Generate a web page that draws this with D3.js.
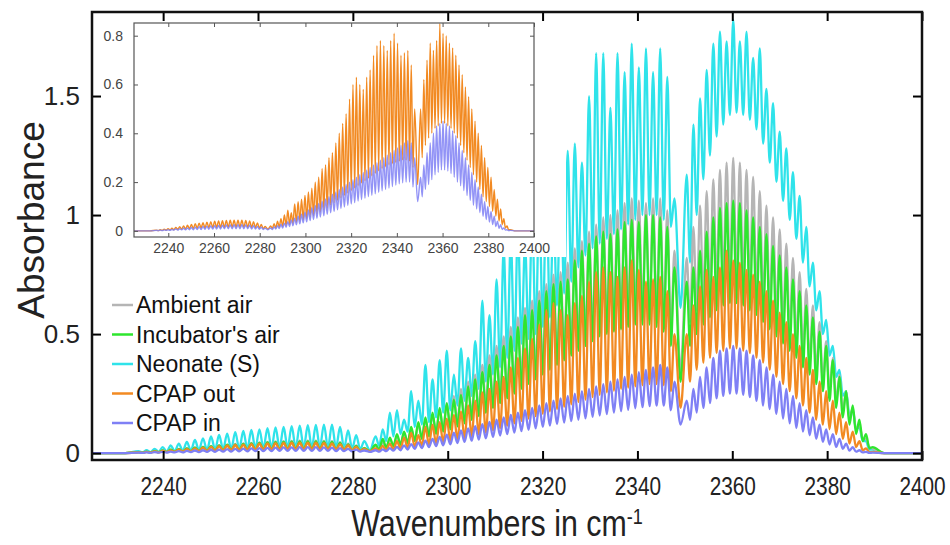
<!DOCTYPE html>
<html>
<head>
<meta charset="utf-8">
<script src="https://cdnjs.cloudflare.com/ajax/libs/d3/7.8.5/d3.min.js"></script>
<style>
body { margin: 0; background: #fff; }
svg text { font-family: "Liberation Sans", Arial, Helvetica, sans-serif; }
</style>
</head>
<body>
<div id="chart"></div>
<script>
// line centres in cm-1 : 13CO2 band (29), P branch (43), R branch (29)
var lineWn = [
  2234.8, 2236.5, 2238.2, 2239.9, 2241.6, 2243.3, 2245.0, 2246.7, 2248.4, 2250.1, 2251.8, 2253.5, 2255.2, 2256.9, 2258.6,
  2260.3, 2262.0, 2263.7, 2265.4, 2267.1, 2268.8, 2270.5, 2272.2, 2273.9, 2275.6, 2277.3, 2279.0, 2280.7, 2282.4,
  2284.8, 2286.3, 2287.8, 2289.3, 2290.8, 2292.3, 2293.8, 2295.3, 2296.8, 2298.3, 2299.8, 2301.3, 2302.8, 2304.3, 2305.8,
  2307.3, 2308.8, 2310.3, 2311.8, 2313.3, 2314.8, 2316.3, 2317.8, 2319.3, 2320.8, 2322.3, 2323.8, 2325.3, 2326.8, 2328.3,
  2329.8, 2331.3, 2332.8, 2334.3, 2335.8, 2337.3, 2338.8, 2340.3, 2341.8, 2343.3, 2344.8, 2346.3, 2347.8,
  2350.4, 2351.8, 2353.2, 2354.6, 2356.0, 2357.4, 2358.8, 2360.2, 2361.6, 2363.0, 2364.4, 2365.8, 2367.2, 2368.6, 2370.0,
  2371.4, 2372.8, 2374.2, 2375.6, 2377.0, 2378.4, 2379.8, 2381.2, 2382.6, 2384.0, 2385.4, 2386.8, 2388.2, 2389.6
];
// flat baseline at both ends of the record
var edgeWn = [2225, 2232, 2392, 2400];
var edgeAbs = [0, 0, 0, 0];

// absorbance at each line centre (peaks) and between neighbouring lines (valleys)
var ambientPeak = [
  0.004, 0.006, 0.009, 0.012, 0.015, 0.018, 0.021, 0.024, 0.027, 0.03, 0.033, 0.036, 0.039, 0.041, 0.043, 0.045, 0.047, 0.049, 0.05, 0.051, 0.052, 0.052, 0.052, 0.051, 0.05, 0.046, 0.04, 0.032, 0.022,
  0.03, 0.045, 0.06, 0.07, 0.085, 0.1, 0.12, 0.14, 0.16, 0.185, 0.21, 0.24, 0.27, 0.3, 0.33, 0.37, 0.41, 0.45, 0.49, 0.53, 0.57, 0.61, 0.64, 0.68, 0.71, 0.75, 0.76, 0.8, 0.86, 0.89, 0.93, 0.96, 0.99, 1.0, 1.02, 1.05, 1.07, 1.06, 1.05, 1.07, 1.07, 1.02, 0.85,
  0.82, 0.95, 1.04, 1.1, 1.15, 1.19, 1.22, 1.24, 1.22, 1.19, 1.16, 1.1, 1.04, 0.99, 0.94, 0.88, 0.82, 0.76, 0.69, 0.62, 0.55, 0.47, 0.4, 0.33, 0.26, 0.19, 0.12, 0.06, 0.02
];
var ambientValley = [
  0.002, 0.003, 0.004, 0.005, 0.006, 0.007, 0.008, 0.009, 0.01, 0.011, 0.012, 0.013, 0.014, 0.015, 0.015, 0.016, 0.016, 0.017, 0.017, 0.017, 0.017, 0.017, 0.017, 0.016, 0.015, 0.014, 0.012, 0.01,
  0.008,
  0.015, 0.022, 0.03, 0.038, 0.045, 0.055, 0.065, 0.075, 0.085, 0.1, 0.115, 0.13, 0.145, 0.16, 0.18, 0.2, 0.22, 0.245, 0.27, 0.29, 0.315, 0.335, 0.355, 0.375, 0.395, 0.42, 0.44, 0.46, 0.48, 0.5, 0.52, 0.54, 0.555, 0.57, 0.58, 0.59, 0.6, 0.6, 0.6, 0.59, 0.57, 0.5,
  0.35,
  0.55, 0.6, 0.64, 0.67, 0.7, 0.72, 0.73, 0.73, 0.72, 0.7, 0.67, 0.63, 0.6, 0.57, 0.53, 0.5, 0.46, 0.42, 0.38, 0.34, 0.3, 0.26, 0.22, 0.18, 0.14, 0.1, 0.06, 0.025
];
var incubatorPeak = [
  0.004, 0.006, 0.008, 0.011, 0.014, 0.017, 0.02, 0.023, 0.026, 0.029, 0.032, 0.035, 0.037, 0.039, 0.041, 0.043, 0.045, 0.046, 0.047, 0.048, 0.049, 0.049, 0.049, 0.048, 0.047, 0.043, 0.037, 0.03, 0.021,
  0.035, 0.06, 0.065, 0.08, 0.09, 0.11, 0.13, 0.15, 0.17, 0.19, 0.21, 0.225, 0.245, 0.28, 0.31, 0.34, 0.37, 0.41, 0.45, 0.49, 0.53, 0.58, 0.6, 0.64, 0.68, 0.71, 0.72, 0.73, 0.81, 0.85, 0.88, 0.91, 0.93, 0.92, 0.94, 0.97, 0.98, 0.97, 1.0, 1.0, 0.99, 0.95, 0.78,
  0.72, 0.78, 0.85, 0.93, 0.99, 1.03, 1.05, 1.06, 1.05, 1.02, 0.99, 0.95, 0.92, 0.87, 0.83, 0.78, 0.73, 0.68, 0.62, 0.57, 0.51, 0.45, 0.39, 0.32, 0.26, 0.2, 0.14, 0.08, 0.025
];
var incubatorValley = [
  0.002, 0.003, 0.004, 0.005, 0.006, 0.007, 0.008, 0.009, 0.01, 0.011, 0.012, 0.013, 0.013, 0.014, 0.014, 0.015, 0.015, 0.016, 0.016, 0.016, 0.016, 0.016, 0.016, 0.015, 0.014, 0.013, 0.011, 0.009,
  0.008,
  0.015, 0.022, 0.028, 0.035, 0.042, 0.05, 0.06, 0.07, 0.08, 0.09, 0.1, 0.112, 0.125, 0.14, 0.155, 0.17, 0.19, 0.21, 0.23, 0.25, 0.27, 0.29, 0.31, 0.33, 0.35, 0.37, 0.39, 0.41, 0.43, 0.45, 0.47, 0.49, 0.5, 0.51, 0.52, 0.53, 0.54, 0.54, 0.54, 0.53, 0.51, 0.45,
  0.30,
  0.45, 0.5, 0.54, 0.57, 0.6, 0.62, 0.63, 0.63, 0.62, 0.6, 0.58, 0.55, 0.52, 0.49, 0.46, 0.43, 0.4, 0.36, 0.33, 0.29, 0.26, 0.22, 0.19, 0.15, 0.12, 0.08, 0.05, 0.02
];
var neonatePeak = [
  0.008, 0.012, 0.018, 0.025, 0.032, 0.04, 0.047, 0.055, 0.062, 0.07, 0.076, 0.082, 0.088, 0.093, 0.097, 0.1, 0.105, 0.108, 0.11, 0.113, 0.115, 0.117, 0.118, 0.12, 0.12, 0.11, 0.095, 0.075, 0.05,
  0.07, 0.10, 0.17, 0.18, 0.14, 0.26, 0.22, 0.37, 0.31, 0.39, 0.43, 0.33, 0.44, 0.40, 0.47, 0.64, 0.58, 0.73, 0.86, 0.9, 0.95, 0.88, 1.0, 1.05, 1.1, 1.0, 1.15, 1.27, 1.30, 1.22, 1.50, 1.68, 1.68, 1.45, 1.68, 1.60, 1.72, 1.62, 1.70, 1.60, 1.70, 1.58, 1.07,
  1.17, 1.38, 1.49, 1.61, 1.72, 1.77, 1.73, 1.82, 1.73, 1.77, 1.66, 1.70, 1.53, 1.47, 1.35, 1.28, 1.18, 1.08, 0.95, 0.8, 0.68, 0.56, 0.45, 0.35, 0.26, 0.18, 0.11, 0.05, 0.015
];
var neonateValley = [
  0.003, 0.004, 0.005, 0.006, 0.008, 0.009, 0.01, 0.012, 0.013, 0.014, 0.015, 0.016, 0.017, 0.018, 0.019, 0.02, 0.02, 0.021, 0.021, 0.022, 0.022, 0.022, 0.022, 0.022, 0.021, 0.02, 0.018, 0.016,
  0.012,
  0.03, 0.05, 0.07, 0.08, 0.09, 0.11, 0.12, 0.13, 0.15, 0.17, 0.18, 0.2, 0.22, 0.24, 0.27, 0.3, 0.33, 0.36, 0.4, 0.43, 0.46, 0.48, 0.5, 0.53, 0.57, 0.62, 0.67, 0.72, 0.78, 0.83, 0.86, 0.88, 0.9, 0.92, 0.94, 0.96, 0.98, 1.0, 1.0, 1.0, 0.98, 0.95,
  0.61,
  0.8, 1.0, 1.15, 1.25, 1.33, 1.38, 1.42, 1.43, 1.42, 1.4, 1.36, 1.3, 1.22, 1.14, 1.06, 0.98, 0.9, 0.8, 0.7, 0.6, 0.5, 0.41, 0.32, 0.24, 0.16, 0.1, 0.05, 0.015
];
var cpapOutPeak = [
  0.003, 0.005, 0.007, 0.009, 0.011, 0.014, 0.017, 0.02, 0.023, 0.026, 0.029, 0.032, 0.034, 0.036, 0.038, 0.04, 0.041, 0.042, 0.043, 0.044, 0.044, 0.044, 0.044, 0.043, 0.041, 0.038, 0.033, 0.026, 0.018,
  0.02, 0.03, 0.04, 0.05, 0.065, 0.085, 0.075, 0.11, 0.12, 0.13, 0.145, 0.16, 0.175, 0.2, 0.22, 0.255, 0.27, 0.3, 0.32, 0.36, 0.4, 0.44, 0.48, 0.54, 0.6, 0.63, 0.6, 0.58, 0.63, 0.66, 0.72, 0.76, 0.78, 0.76, 0.74, 0.78, 0.81, 0.77, 0.72, 0.73, 0.74, 0.68, 0.5,
  0.5, 0.62, 0.7, 0.77, 0.74, 0.78, 0.85, 0.81, 0.8, 0.77, 0.75, 0.72, 0.68, 0.64, 0.59, 0.55, 0.5, 0.45, 0.4, 0.35, 0.3, 0.26, 0.22, 0.17, 0.13, 0.09, 0.05, 0.02, 0.005
];
var cpapOutValley = [
  0.001, 0.002, 0.003, 0.004, 0.005, 0.006, 0.007, 0.008, 0.009, 0.01, 0.011, 0.012, 0.012, 0.013, 0.013, 0.014, 0.014, 0.014, 0.015, 0.015, 0.015, 0.015, 0.015, 0.014, 0.014, 0.013, 0.011, 0.009,
  0.007,
  0.01, 0.012, 0.015, 0.018, 0.022, 0.026, 0.03, 0.035, 0.04, 0.045, 0.05, 0.056, 0.062, 0.07, 0.078, 0.086, 0.095, 0.105, 0.115, 0.125, 0.135, 0.145, 0.155, 0.165, 0.175, 0.185, 0.195, 0.205, 0.215, 0.225, 0.235, 0.245, 0.255, 0.262, 0.27, 0.275, 0.28, 0.285, 0.29, 0.29, 0.285, 0.26,
  0.19,
  0.3, 0.35, 0.38, 0.4, 0.42, 0.43, 0.44, 0.44, 0.43, 0.42, 0.4, 0.38, 0.35, 0.32, 0.29, 0.26, 0.23, 0.2, 0.17, 0.14, 0.12, 0.1, 0.08, 0.06, 0.04, 0.025, 0.012, 0.004
];
var cpapInPeak = [
  0.002, 0.003, 0.004, 0.005, 0.006, 0.008, 0.009, 0.011, 0.012, 0.014, 0.015, 0.017, 0.018, 0.019, 0.02, 0.021, 0.022, 0.023, 0.024, 0.024, 0.025, 0.025, 0.025, 0.024, 0.023, 0.021, 0.018, 0.015, 0.011,
  0.012, 0.016, 0.021, 0.026, 0.032, 0.038, 0.045, 0.052, 0.06, 0.068, 0.077, 0.086, 0.095, 0.104, 0.113, 0.122, 0.131, 0.14, 0.15, 0.16, 0.17, 0.18, 0.19, 0.2, 0.21, 0.22, 0.23, 0.24, 0.25, 0.26, 0.27, 0.28, 0.29, 0.3, 0.31, 0.32, 0.33, 0.34, 0.35, 0.36, 0.37, 0.36, 0.3,
  0.22, 0.27, 0.32, 0.36, 0.4, 0.43, 0.44, 0.45, 0.44, 0.43, 0.41, 0.39, 0.36, 0.33, 0.3, 0.27, 0.24, 0.21, 0.18, 0.15, 0.12, 0.1, 0.08, 0.06, 0.04, 0.025, 0.012, 0.005, 0.002
];
var cpapInValley = [
  0.001, 0.001, 0.002, 0.002, 0.003, 0.003, 0.004, 0.004, 0.005, 0.005, 0.006, 0.006, 0.007, 0.007, 0.008, 0.008, 0.008, 0.009, 0.009, 0.009, 0.009, 0.009, 0.009, 0.009, 0.008, 0.008, 0.007, 0.006,
  0.005,
  0.006, 0.008, 0.01, 0.012, 0.015, 0.018, 0.021, 0.025, 0.029, 0.033, 0.037, 0.042, 0.047, 0.052, 0.057, 0.062, 0.068, 0.074, 0.08, 0.086, 0.092, 0.098, 0.104, 0.11, 0.116, 0.122, 0.128, 0.134, 0.14, 0.146, 0.152, 0.158, 0.164, 0.17, 0.176, 0.182, 0.188, 0.193, 0.197, 0.2, 0.2, 0.18,
  0.12,
  0.14, 0.17, 0.19, 0.21, 0.23, 0.24, 0.25, 0.25, 0.245, 0.235, 0.22, 0.2, 0.185, 0.165, 0.145, 0.125, 0.105, 0.09, 0.075, 0.06, 0.047, 0.036, 0.026, 0.018, 0.011, 0.006, 0.003, 0.001
];

var seriesNames = ["Ambient air", "Incubator's air", "Neonate (S)", "CPAP out", "CPAP in"];
var seriesColors = ["#b5b5b5", "#2ee62e", "#2fe3ea", "#f28a22", "#7f80f5"];
var xTicks = [2240, 2260, 2280, 2300, 2320, 2340, 2360, 2380, 2400];
var yTicks = [0, 0.5, 1, 1.5];
var insetYTicks = [0, 0.2, 0.4, 0.6, 0.8];

var peaks = [ambientPeak, incubatorPeak, neonatePeak, cpapOutPeak, cpapInPeak];
var valleys = [ambientValley, incubatorValley, neonateValley, cpapOutValley, cpapInValley];

// turn peak / valley lists into one path of points
function spectrum(peak, valley) {
  var pts = [];
  pts.push({ wn: edgeWn[0], a: edgeAbs[0] });
  pts.push({ wn: edgeWn[1], a: edgeAbs[1] });
  lineWn.forEach(function (w, i) {
    pts.push({ wn: w, a: peak[i] });
    if (i < lineWn.length - 1) pts.push({ wn: (w + lineWn[i + 1]) / 2, a: valley[i] });
  });
  pts.push({ wn: edgeWn[2], a: edgeAbs[2] });
  pts.push({ wn: edgeWn[3], a: edgeAbs[3] });
  return pts;
}
var spectra = peaks.map(function (p, i) { return spectrum(p, valleys[i]); });

var width = 950, height = 545;
var svg = d3.select("#chart").append("svg")
  .attr("width", width)
  .attr("height", height);

// main panel
var x = d3.scaleLinear().domain([2225, 2400]).range([92, 922]);
var y = d3.scaleLinear().domain([-0.029, 1.853]).range([460, 12]);

svg.append("clipPath").attr("id", "mainClip")
  .append("rect")
  .attr("x", x.range()[0]).attr("y", y.range()[1])
  .attr("width", x.range()[1] - x.range()[0])
  .attr("height", y.range()[0] - y.range()[1]);

var line = d3.line()
  .x(function (d) { return x(d.wn); })
  .y(function (d) { return y(d.a); })
  .curve(d3.curveMonotoneX);

// drawing order: cyan under the others, CPAP in on top
var drawOrder = [2, 0, 1, 3, 4];
svg.append("g")
  .attr("clip-path", "url(#mainClip)")
  .selectAll("path")
  .data(drawOrder)
  .enter()
  .append("path")
  .attr("d", function (i) { return line(spectra[i]); })
  .attr("fill", "none")
  .attr("stroke", function (i) { return seriesColors[i]; })
  .attr("stroke-width", 2.3)
  .attr("stroke-linejoin", "round");

// white box behind the inset (hides the main curves there)
svg.append("rect")
  .attr("x", 93).attr("y", 13)
  .attr("width", 566 - 93).attr("height", 257 - 13)
  .attr("fill", "#fff");

// inset
var xi = d3.scaleLinear().domain([2225, 2400]).range([134, 534]);
var yi = d3.scaleLinear().domain([-0.025, 0.852]).range([237, 23]);

svg.append("clipPath").attr("id", "insetClip")
  .append("rect")
  .attr("x", xi.range()[0]).attr("y", yi.range()[1])
  .attr("width", xi.range()[1] - xi.range()[0])
  .attr("height", yi.range()[0] - yi.range()[1]);

var lineInset = d3.line()
  .x(function (d) { return xi(d.wn); })
  .y(function (d) { return yi(d.a); })
  .curve(d3.curveMonotoneX);

svg.append("g")
  .attr("clip-path", "url(#insetClip)")
  .selectAll("path")
  .data([3, 4])
  .enter()
  .append("path")
  .attr("d", function (i) { return lineInset(spectra[i]); })
  .attr("fill", "none")
  .attr("stroke", function (i) { return seriesColors[i]; })
  .attr("stroke-width", 1.4)
  .attr("stroke-opacity", function (i) { return i === 4 ? 0.85 : 1; });

function insetAxis(g) {
  g.select(".domain").remove();
  g.selectAll(".tick line").attr("stroke", "#555").attr("stroke-width", 1);
  g.selectAll(".tick text").attr("fill", "#444").style("font-size", "14px");
}
svg.append("g")
  .attr("transform", "translate(0," + yi.range()[0] + ")")
  .call(d3.axisBottom(xi).tickValues(xTicks).tickFormat(d3.format("d")).tickSizeInner(-4).tickSizeOuter(0).tickPadding(6))
  .call(insetAxis);
svg.append("g")
  .attr("transform", "translate(0," + yi.range()[1] + ")")
  .call(d3.axisTop(xi).tickValues(xTicks).tickFormat("").tickSizeInner(-4).tickSizeOuter(0))
  .call(insetAxis);
svg.append("g")
  .attr("transform", "translate(" + xi.range()[0] + ",0)")
  .call(d3.axisLeft(yi).tickValues(insetYTicks).tickFormat(d3.format("~g")).tickSizeInner(-4).tickSizeOuter(0).tickPadding(11))
  .call(insetAxis);
svg.append("g")
  .attr("transform", "translate(" + xi.range()[1] + ",0)")
  .call(d3.axisRight(yi).tickValues(insetYTicks).tickFormat("").tickSizeInner(-4).tickSizeOuter(0))
  .call(insetAxis);
svg.append("rect")
  .attr("x", xi.range()[0]).attr("y", yi.range()[1])
  .attr("width", xi.range()[1] - xi.range()[0])
  .attr("height", yi.range()[0] - yi.range()[1])
  .attr("fill", "none")
  .attr("stroke", "#555")
  .attr("stroke-width", 1.2);

// main axes, ticks inside on all four sides
function mainAxis(g) {
  g.select(".domain").remove();
  g.selectAll(".tick line").attr("stroke", "#000").attr("stroke-width", 2);
  g.selectAll(".tick text").attr("fill", "#222").style("font-size", "26px");
}
svg.append("g")
  .attr("transform", "translate(0," + y.range()[0] + ")")
  .call(d3.axisBottom(x).tickValues(xTicks).tickFormat(d3.format("d")).tickSizeInner(-9).tickSizeOuter(0).tickPadding(17))
  .call(mainAxis)
  .selectAll(".tick text").attr("transform", "scale(0.8,1)");
svg.append("g")
  .attr("transform", "translate(0," + y.range()[1] + ")")
  .call(d3.axisTop(x).tickValues(xTicks).tickFormat("").tickSizeInner(-9).tickSizeOuter(0))
  .call(mainAxis);
svg.append("g")
  .attr("transform", "translate(" + x.range()[0] + ",0)")
  .call(d3.axisLeft(y).tickValues(yTicks).tickFormat(d3.format("~g")).tickSizeInner(-9).tickSizeOuter(0).tickPadding(12))
  .call(mainAxis);
svg.append("g")
  .attr("transform", "translate(" + x.range()[1] + ",0)")
  .call(d3.axisRight(y).tickValues(yTicks).tickFormat("").tickSizeInner(-9).tickSizeOuter(0))
  .call(mainAxis);

svg.append("rect")
  .attr("x", x.range()[0]).attr("y", y.range()[1])
  .attr("width", x.range()[1] - x.range()[0])
  .attr("height", y.range()[0] - y.range()[1])
  .attr("fill", "none")
  .attr("stroke", "#111")
  .attr("stroke-width", 2.5);

// axis titles
var xTitle = svg.append("text")
  .attr("transform", "translate(497,536) scale(0.82,1)")
  .attr("text-anchor", "middle")
  .attr("fill", "#222")
  .style("font-size", "37px");
xTitle.append("tspan").text("Wavenumbers in cm");
xTitle.append("tspan").attr("dy", "-0.55em").style("font-size", "22px").text("-1");

svg.append("text")
  .attr("transform", "translate(44,220) rotate(-90)")
  .attr("text-anchor", "middle")
  .attr("fill", "#222")
  .style("font-size", "37px")
  .text("Absorbance");

// legend
var legend = svg.append("g")
  .selectAll("g")
  .data(seriesNames)
  .enter()
  .append("g")
  .attr("transform", function (d, i) { return "translate(112," + (305 + i * 29.5) + ")"; });
legend.append("line")
  .attr("x1", 0).attr("x2", 21)
  .attr("stroke", function (d, i) { return seriesColors[i]; })
  .attr("stroke-width", 2.5);
legend.append("text")
  .attr("x", 24)
  .attr("dy", "0.36em")
  .attr("fill", "#111")
  .style("font-size", "23px")
  .text(function (d) { return d; });
</script>
</body>
</html>
